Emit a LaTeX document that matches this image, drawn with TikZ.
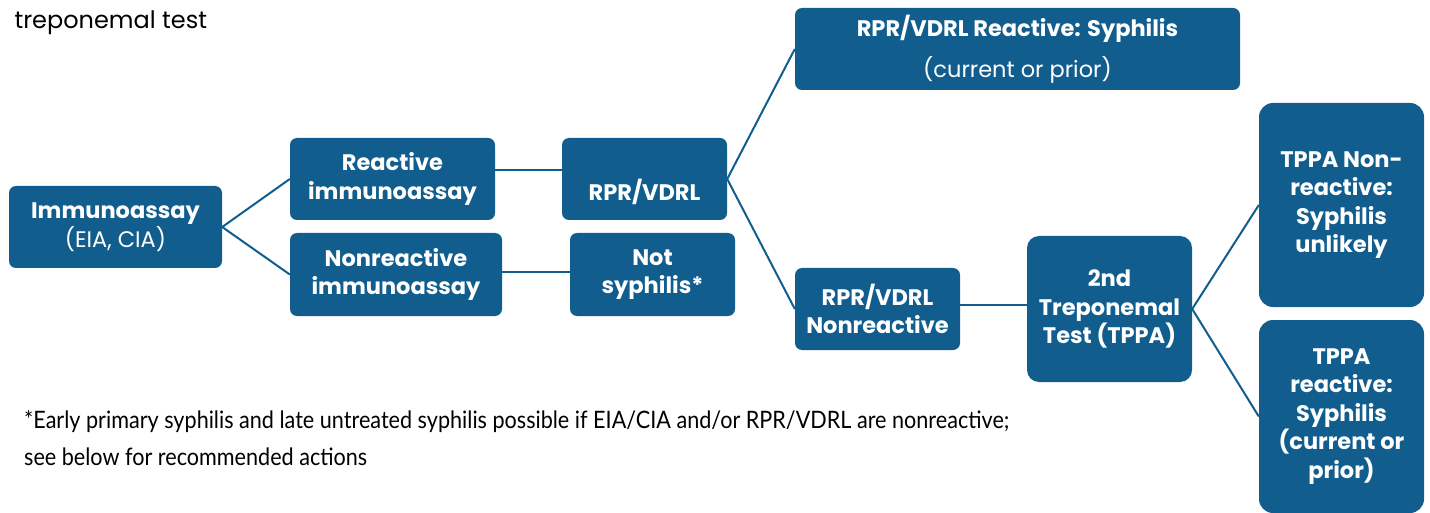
\documentclass[tikz,border=0pt]{standalone}
\usepackage{fontspec}
\setmainfont{Poppins}
\newfontfamily\notefont[FakeStretch=0.9]{Lato}
\definecolor{boxblue}{RGB}{17,94,142}
\tikzset{
  box/.style={fill=boxblue, rounded corners=7pt, text=white, align=center, inner sep=0pt,
    font=\bfseries\fontsize{22.5}{28.5}\selectfont},
  link/.style={draw=boxblue, line width=2pt}
}
\begin{document}
\begin{tikzpicture}[x=1pt,y=-1pt]
  \useasboundingbox (0,0) rectangle (1430,513);
  \node[anchor=west, font=\fontsize{24}{28}\selectfont] (title) at (11,23) {treponemal test};
  % boxes
  \node[box, minimum width=213pt, minimum height=82pt] (immuno) at (115.5,227) {Immunoassay\\{\mdseries (EIA, CIA)}};
  \node[box, minimum width=205pt, minimum height=82pt] (reactimm) at (392.5,179) {Reactive\\immunoassay};
  \node[box, minimum width=212pt, minimum height=83pt] (nonimm) at (396,274.5) {Nonreactive\\immunoassay};
  \node[box, minimum width=165pt, minimum height=82pt] (rpr) at (644.5,179) {\smash{\raisebox{-22pt}{RPR/VDRL}}};
  \node[box, minimum width=165pt, minimum height=83pt] (notsyph) at (652.5,274.5) {Not\\syphilis*};
  \node[box, minimum width=445pt, minimum height=82pt] (rprreact) at (1017.5,49) {RPR/VDRL Reactive: Syphilis\\[12pt]{\mdseries (current or prior)}};
  \node[box, minimum width=165pt, minimum height=82pt] (rprnon) at (877.5,309) {RPR/VDRL\\Nonreactive};
  \node[box, minimum width=165pt, minimum height=146pt, rounded corners=12pt] (second) at (1109.5,309) {2nd\\Treponemal\\Test (TPPA)};
  \node[box, minimum width=165pt, minimum height=204pt, rounded corners=14pt] (tppanon) at (1341.5,205) {TPPA Non-\\reactive:\\Syphilis\\unlikely};
  \node[box, minimum width=165pt, minimum height=193pt, rounded corners=14pt] (tppareact) at (1341.5,416.5) {TPPA\\reactive:\\Syphilis\\(current or\\prior)};
  % connectors
  \draw[link] (immuno.east) -- (reactimm.west);
  \draw[link] (immuno.east) -- (nonimm.west);
  \draw[link] ([yshift=9pt]reactimm.east) -- ([yshift=9pt]rpr.west);
  \draw[link] ([yshift=3pt]nonimm.east) -- ([yshift=3pt]notsyph.west);
  \draw[link] (rpr.east) -- (rprreact.west);
  \draw[link] (rpr.east) -- (rprnon.west);
  \draw[link] ([yshift=4pt]rprnon.east) -- ([yshift=4pt]second.west);
  \draw[link] (second.east) -- (tppanon.west);
  \draw[link] (second.east) -- (tppareact.west);
  % footnote
  \node[anchor=north west, align=left, inner sep=0pt, font=\notefont\fontsize{24}{37}\selectfont] (note) at (24,410)
    {*Early primary syphilis and late untreated syphilis possible if EIA/CIA and/or RPR/VDRL are nonreactive;\\see below for recommended actions};
\end{tikzpicture}
\end{document}
